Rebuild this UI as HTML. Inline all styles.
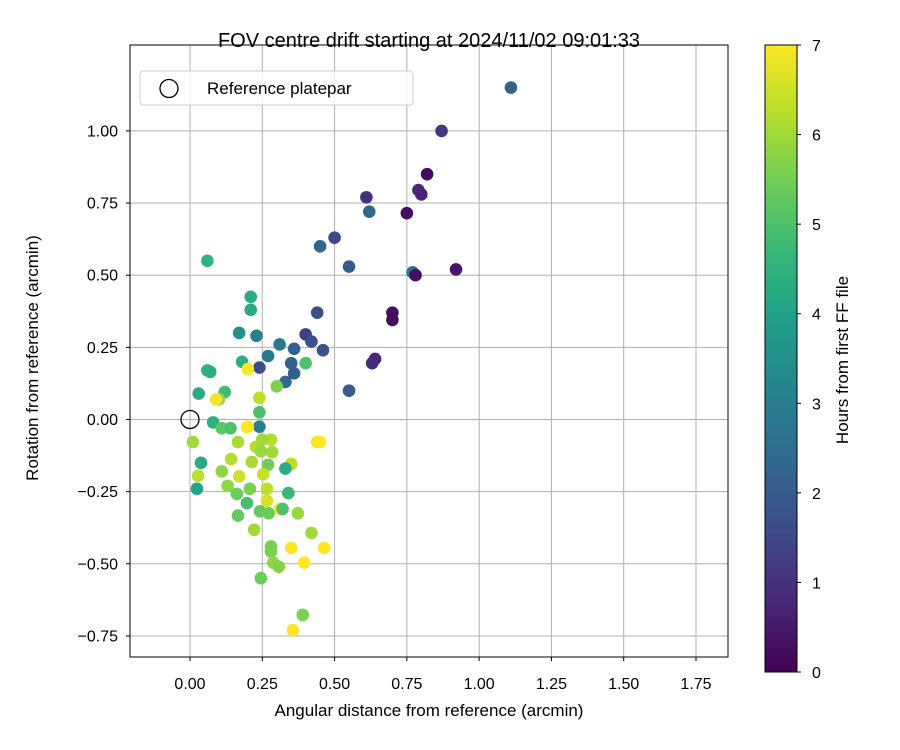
<!DOCTYPE html>
<html><head><meta charset="utf-8"><style>
body{margin:0;background:#fff;}
svg{display:block;font-family:"Liberation Sans","DejaVu Sans",sans-serif;}
</style></head><body>
<svg id="chart" width="900" height="750" viewBox="0 0 900 750"></svg>
<script>
const xs=[1.11,0.87,0.82,0.79,0.80,0.61,0.62,0.75,0.50,0.45,0.55,0.77,0.78,0.92,0.44,0.70,0.70,0.40,0.42,0.46,0.36,0.64,0.63,0.35,0.36,0.33,0.55,0.24,0.31,0.27,0.23,0.17,0.21,0.21,0.06,0.18,0.40,0.06,0.07,0.03,0.12,0.10,0.09,0.20,0.30,0.24,0.24,0.24,0.08,0.11,0.14,0.20,0.25,0.28,
0.01,0.166,0.228,0.284,0.038,0.142,0.214,0.27,0.35,0.33,0.028,0.11,0.17,0.253,0.024,0.13,0.207,0.266,0.266,0.162,0.197,0.34,0.31,0.32,0.242,0.272,0.373,0.166,0.222,0.42,0.28,0.28,0.35,0.464,0.288,0.307,0.395,0.245,0.39,0.356,0.44,0.45,0.197,0.25,0.245];
const ys=[1.15,1.00,0.85,0.795,0.78,0.77,0.72,0.715,0.63,0.60,0.53,0.51,0.50,0.52,0.37,0.37,0.345,0.295,0.27,0.24,0.245,0.21,0.195,0.195,0.16,0.13,0.10,0.18,0.26,0.22,0.29,0.30,0.38,0.425,0.55,0.20,0.195,0.17,0.165,0.09,0.095,0.07,0.07,0.175,0.115,0.075,0.025,-0.025,-0.01,-0.03,-0.03,-0.025,-0.07,-0.07,
-0.078,-0.078,-0.095,-0.113,-0.15,-0.137,-0.147,-0.157,-0.154,-0.17,-0.195,-0.18,-0.197,-0.19,-0.24,-0.23,-0.24,-0.24,-0.282,-0.258,-0.29,-0.255,-0.31,-0.31,-0.318,-0.325,-0.325,-0.333,-0.382,-0.393,-0.44,-0.458,-0.445,-0.445,-0.496,-0.51,-0.496,-0.55,-0.677,-0.73,-0.078,-0.078,-0.026,-0.07,-0.11];
const hours=[2.2,1.1,0.2,0.8,0.7,1.0,2.3,0.2,1.5,2.3,2.0,2.7,0.3,0.4,1.6,0.3,0.2,1.3,1.8,1.8,2.1,0.8,0.9,2.2,2.1,2.4,2.0,1.6,2.8,2.9,3.0,3.5,4.2,4.3,4.5,4.4,5.0,4.5,4.4,4.3,4.8,5.8,6.9,7.0,5.6,6.3,5.0,3.0,4.4,5.2,5.0,6.9,6.2,6.2,
6.0,6.1,6.2,6.0,4.2,6.2,6.1,5.5,6.3,4.3,6.3,5.8,6.5,6.4,4.0,5.8,5.6,6.3,6.6,5.4,4.9,4.7,7.0,5.0,5.3,5.4,5.9,5.3,6.0,6.0,5.6,5.6,7.0,7.0,5.8,5.7,7.0,5.4,5.6,7.0,6.9,7.0,7.0,6.0,5.9];
const xTicks=[0,0.25,0.5,0.75,1.0,1.25,1.5,1.75];
const yTicks=[-0.75,-0.5,-0.25,0,0.25,0.5,0.75,1.0];
const cTicks=[0,1,2,3,4,5,6,7];

const L=130,R=728,T=45,B=657;
const X=v=>190+v*289.14, Y=v=>419.5-v*288.6;
const vir=[[68,1,84],[72,40,120],[62,74,137],[49,104,142],[38,130,142],[31,158,137],[53,183,121],[109,205,89],[180,222,44],[253,231,37]];
function col(h){let t=Math.max(0,Math.min(1,h/7))*(vir.length-1);let i=Math.min(Math.floor(t),vir.length-2),f=t-i;const a=vir[i],b=vir[i+1];return `rgb(${a.map((c,k)=>Math.round(c+(b[k]-c)*f)).join(',')})`;}
const S=document.getElementById('chart'),NS='http://www.w3.org/2000/svg';
function el(tag,attrs,txt){const e=document.createElementNS(NS,tag);for(const k in attrs)e.setAttribute(k,attrs[k]);if(txt!==undefined)e.textContent=txt;S.appendChild(e);return e;}
xTicks.forEach(v=>{const g=el('line',{x1:X(v),x2:X(v),y1:T,y2:B,stroke:'#b0b0b0','stroke-width':1});

});
yTicks.forEach(v=>{const g=el('line',{x1:L,x2:R,y1:Y(v),y2:Y(v),stroke:'#b0b0b0','stroke-width':1});

});
xs.forEach((x,i)=>{const c=el('circle',{cx:X(x),cy:Y(ys[i]),r:6.3,fill:col(hours[i])});

});
const rc=el('circle',{cx:X(0),cy:Y(0),r:9,fill:'none',stroke:'#000','stroke-width':1.3});


const fr=el('rect',{x:L,y:T,width:R-L,height:B-T,fill:'none',stroke:'#000','stroke-width':1});


xTicks.forEach(v=>{el('line',{x1:X(v),x2:X(v),y1:B,y2:B+4,stroke:'#000'});
const t=el('text',{x:X(v),y:B+32,'text-anchor':'middle','font-size':16},v.toFixed(2));

});
yTicks.forEach(v=>{el('line',{x1:L-4,x2:L,y1:Y(v),y2:Y(v),stroke:'#000'});
const t=el('text',{x:L-12,y:Y(v)+5.5,'text-anchor':'end','font-size':16},(v<0?'\u2212':'')+Math.abs(v).toFixed(2));

});
let t;
t=el('text',{x:429,y:716,'text-anchor':'middle','font-size':17},'Angular distance from reference (arcmin)');

t=el('text',{x:0,y:0,'text-anchor':'middle','font-size':17,transform:'translate(38,358) rotate(-90)'},'Rotation from reference (arcmin)');

t=el('text',{x:429,y:47,'text-anchor':'middle','font-size':20},'FOV centre drift starting at 2024/11/02 09:01:33');

const lg=el('rect',{x:140,y:71,width:273,height:34,rx:3,fill:'#fff','fill-opacity':0.8,stroke:'#ccc'});

el('circle',{cx:169,cy:88.5,r:9,fill:'none',stroke:'#000','stroke-width':1.3});
t=el('text',{x:207,y:94,'font-size':17},'Reference platepar');

const CT=45,CB=672,CL=765,CR=797;
const defs=el('defs',{});const gr=document.createElementNS(NS,'linearGradient');gr.setAttribute('id','vg');gr.setAttribute('x1','0');gr.setAttribute('y1','1');gr.setAttribute('x2','0');gr.setAttribute('y2','0');
vir.forEach((c,i)=>{const s=document.createElementNS(NS,'stop');s.setAttribute('offset',i/(vir.length-1));s.setAttribute('stop-color',`rgb(${c.join(',')})`);gr.appendChild(s);});defs.appendChild(gr);
const cb=el('rect',{x:CL,y:CT,width:CR-CL,height:CB-CT,fill:'url(#vg)',stroke:'#000','stroke-width':1});

cTicks.forEach(v=>{const y=CB-v*(CB-CT)/7;el('line',{x1:CR,x2:CR+4,y1:y,y2:y,stroke:'#000'});
const tt=el('text',{x:CR+15,y:y+6,'font-size':16},String(v));
});
t=el('text',{x:0,y:0,'text-anchor':'middle','font-size':17,transform:'translate(848,360) rotate(-90)'},'Hours from first FF file');

</script>
</body></html>
